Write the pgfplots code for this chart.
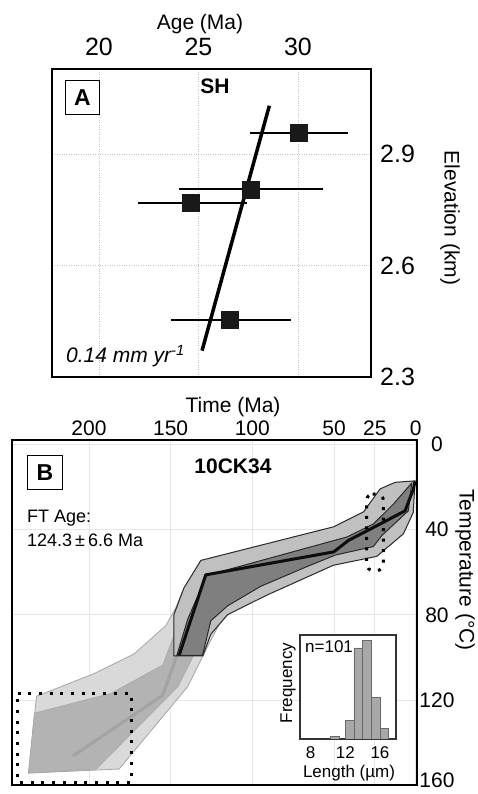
\documentclass[border=0pt]{standalone}
\usepackage{fontspec}
\setmainfont{Liberation Sans}
\usepackage{pgfplots}
\pgfplotsset{compat=1.18}
\definecolor{gridA}{HTML}{C4C4C4}
\definecolor{gridB}{HTML}{E6E6E6}
\definecolor{lightL}{HTML}{D9D9D9}
\definecolor{lightLe}{HTML}{A6A6A6}
\definecolor{medM}{HTML}{B3B3B3}
\definecolor{outO}{HTML}{C0C0C0}
\definecolor{darkD}{HTML}{7F7F7F}
\definecolor{edge}{HTML}{2A2A2A}
\definecolor{meanG}{HTML}{A3A3A3}
\definecolor{barF}{HTML}{A8A8A8}
\definecolor{barE}{HTML}{6A6A6A}
\newcommand{\fs}[1]{\fontsize{#1}{#1}\selectfont}
\begin{document}
\begin{tikzpicture}[x=1pt,y=1pt]
\useasboundingbox (0,0) rectangle (478,794);

% ---------------- Panel A ----------------
\begin{axis}[
  at={(52pt,417pt)}, anchor=south west,
  scale only axis, width=319pt, height=308pt,
  xmin=17.64, xmax=33.67, ymin=2.3, ymax=3.129,
  xtick={20,25,30}, ytick={2.3,2.6,2.9},
  xticklabel pos=right, yticklabel pos=right,
  major tick length=0pt,
  tick label style={font=\fs{25}, inner sep=0pt},
  /pgf/number format/assume math mode=true,
  /pgf/number format/fixed, /pgf/number format/precision=1,
  xticklabel style={anchor=south, yshift=13pt},
  yticklabel style={anchor=west, xshift=9pt},
  grid=major, grid style={gridA, dotted, line width=0.9pt},
  axis line style={line width=2.6pt},
]
\addplot[only marks, mark=square*, mark size=8.5pt, black!90,
  error bars/.cd, x dir=both, x explicit, error mark=none,
  error bar style={line width=2pt, black}]
  table[x=x, y=y, x error plus=ep, x error minus=em] {
x y ep em
30.04 2.958 2.46 2.45
27.62 2.805 3.65 3.60
24.62 2.768 2.80 2.65
26.55 2.453 3.08 2.93
};
\addplot[line width=3.5pt, black] coordinates {(25.18,2.371) (28.56,3.030)};
\end{axis}
\node[font=\fs{21}] at (200,770) {Age (Ma)};
\node[font=\fs{21}, rotate=-90] at (450,576) {Elevation (km)};
\node[draw, line width=1pt, minimum width=34pt, minimum height=34pt, inner sep=0pt, font=\fs{23}\bfseries] at (82.5,696.8) {A};
\node[font=\fs{21}\bfseries] at (215,708) {SH};
\node[font=\fs{21}\itshape, anchor=west, inner sep=0pt] at (66,438) {0.14 mm yr\textsuperscript{-1}};

% ---------------- Panel B ----------------
\begin{axis}[
  at={(12pt,9pt)}, anchor=south west,
  scale only axis, width=405pt, height=345pt,
  x dir=reverse, y dir=reverse,
  xmin=-0.8, xmax=247.1, ymin=-2.2, ymax=160,
  xtick={0,25,50,100,150,200}, ytick={0,40,80,120},
  extra y ticks={160},
  extra y tick style={grid=none, yticklabel style={yshift=5pt}},
  xticklabel pos=right, yticklabel pos=right,
  major tick length=0pt,
  tick label style={font=\fs{21}, inner sep=0pt},
  /pgf/number format/assume math mode=true,
  xticklabel style={anchor=south, yshift=4pt},
  yticklabel style={anchor=center, xshift=20pt},
  grid=major, grid style={gridB, line width=0.7pt},
  axis line style={line width=2.6pt},
]
% light envelope (old part)
\addplot[fill=lightL, draw=lightLe, line width=0.8pt] coordinates {
(237.0,154.4) (232.1,118.3) (196.8,107.6) (172.4,98.4) (152.9,85.0) (146.8,76.6)
(143.1,69.7) (116.3,78.9) (125.4,91.9) (139.5,113.7) (181.5,152.5)} -- cycle;
% medium envelope (old part)
\addplot[fill=medM, draw=lightLe, line width=0.6pt] coordinates {
(237.0,154.4) (233.4,126.2) (186.4,116.9) (154.7,103.5) (146.8,87.3) (144.9,77.5)
(134.6,90.5) (136.4,99.8) (145.5,113.7) (195.5,152.5)} -- cycle;
% weighted mean path (gray)
\addplot[meanG, line width=3pt] coordinates {(209.8,146.4) (154.9,117.8) (146.2,99.3)};
% acceptable envelope
\addplot[fill=outO, draw=edge, line width=1pt] coordinates {
(148.0,99.3) (148.0,79.9) (141.9,67.4) (131.5,54.4) (50.2,38.6) (31.9,31.6)
(21.8,20.8) (12.6,17.7) (0.4,17.0) (1.5,31.9) (7.5,41.9) (23.8,52.5)
(50.4,56.7) (90.7,70.6) (115.1,79.9) (125.4,89.1) (130.3,99.3)} -- cycle;
% good envelope
\addplot[fill=darkD, draw=edge, line width=1pt] coordinates {
(146.2,99.0) (139.5,82.0) (128.0,61.5) (42.1,43.4) (25.9,37.3) (13.7,28.0)
(2.4,18.0) (4.5,31.1) (20.7,42.7) (25.9,47.9) (49.2,51.9) (66.5,57.3)
(94.9,66.6) (115.2,75.8) (125.4,82.8) (130.5,99.0)} -- cycle;
% best fit path
\addplot[black!95, line width=3pt, line join=round] coordinates {
(144.8,99.0) (128.5,61.2) (50.2,50.4) (41.1,45.0) (19.8,36.5) (6.5,31.1) (1.5,21.1) (0.4,17.2)};
% constraint boxes
\addplot[black, line width=3pt, dash pattern=on 3pt off 7.7pt] coordinates {
(243.7,117.0) (174.2,117.0) (174.2,158.7) (243.7,158.7)} -- cycle;
\addplot[black, line width=3pt, dash pattern=on 3pt off 7.5pt, rounded corners=6pt] coordinates {
(30.0,23.3) (19.8,23.3) (19.8,59.1) (30.0,59.1)} -- cycle;
\end{axis}
\node[font=\fs{21}] at (233,387.3) {Time (Ma)};
\node[font=\fs{21}, rotate=-90] at (465,224) {Temperature (°C)};
\node[draw, line width=1pt, minimum width=35pt, minimum height=34pt, inner sep=0pt, font=\fs{23}\bfseries] at (45,321.8) {B};
\node[font=\fs{21}\bfseries] at (233,327.3) {10CK34};
\node[font=\fs{18}, anchor=west, inner sep=0pt] at (27,276) {FT Age:};
\node[font=\fs{18}, anchor=west, inner sep=0pt] at (27,254) {124.3\,±\,6.6 Ma};

% ---------------- Inset histogram ----------------
\begin{axis}[
  at={(300pt,55pt)}, anchor=south west,
  scale only axis, width=96pt, height=104pt,
  xmin=6.77, xmax=17.85, ymin=0, ymax=40,
  xtick={8,12,16}, ytick=\empty,
  major tick length=0pt,
  tick label style={font=\fs{17}, inner sep=0pt},
  /pgf/number format/assume math mode=true,
  xticklabel style={anchor=north, yshift=-7pt},
  axis line style={line width=1.2pt, black!80},
  axis background/.style={fill=white},
]
\addplot[ybar, bar width=1, bar shift=0pt, fill=barF, draw=barE, line width=0.7pt] coordinates {
(10.8,1) (12.5,7) (13.5,35) (14.5,38) (15.5,16) (16.5,4)};
\end{axis}
\node[font=\fs{17}, anchor=west, inner sep=0pt] at (305,147) {n=101};
\node[font=\fs{17}, rotate=90, inner sep=0pt] at (288,111) {Frequency};
\node[font=\fs{17}, inner sep=0pt] at (349,21) {Length (µm)};
\end{tikzpicture}
\end{document}
